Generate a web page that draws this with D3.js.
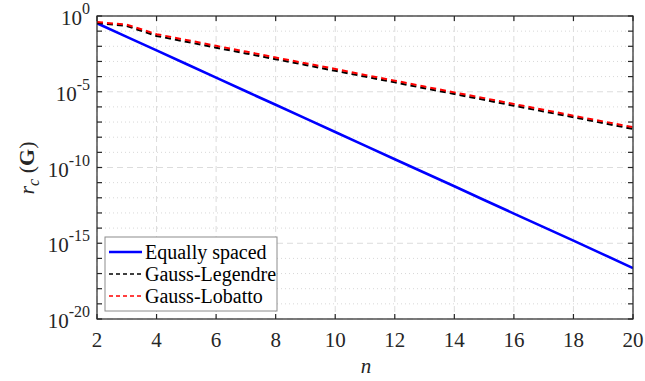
<!DOCTYPE html>
<html>
<head>
<meta charset="utf-8">
<script src="https://cdn.jsdelivr.net/npm/d3@7"></script>
<style>
  html, body { margin: 0; padding: 0; background: #fff; }
  svg { display: block; }
  text { font-family: 'Liberation Serif', 'DejaVu Serif', serif; }
</style>
</head>
<body>
<svg id="chart" width="645" height="381" font-family="Liberation Serif"></svg>
<script>
// Number of points n
const nValues = [2, 3, 4, 5, 6, 7, 8, 9, 10, 11, 12, 13, 14, 15, 16, 17, 18, 19, 20];

// r_c(G) for each node distribution
const equallySpaced = [0.33, 0.042, 5.4e-3, 6.8e-4, 8.5e-5, 1.07e-5, 1.38e-6, 1.74e-7, 2.2e-8,
  2.8e-9, 3.5e-10, 4.5e-11, 5.8e-12, 7.2e-13, 9.1e-14, 1.15e-14, 1.48e-15, 1.86e-16, 2.3e-17];
const gaussLegendre = [0.347, 0.219, 0.0479, 0.0200, 8.1e-3, 3.4e-3, 1.41e-3, 5.9e-4, 2.4e-4,
  1.0e-4, 4.2e-5, 1.7e-5, 7.1e-6, 2.95e-6, 1.2e-6, 5.0e-7, 2.1e-7, 8.5e-8, 3.5e-8];
const gaussLobatto = [0.398, 0.269, 0.0631, 0.0263, 0.0107, 4.5e-3, 1.82e-3, 7.6e-4, 3.2e-4,
  1.29e-4, 5.4e-5, 2.2e-5, 9.1e-6, 3.8e-6, 1.55e-6, 6.5e-7, 2.6e-7, 1.10e-7, 4.6e-8];

const seriesNames = ["Equally spaced", "Gauss-Legendre", "Gauss-Lobatto"];

// Axis ticks
const xTicks = [2, 4, 6, 8, 10, 12, 14, 16, 18, 20];
const yLabelExponents = [0, -5, -10, -15, -20];
const yMinorExponents = d3.range(0, -21, -1);

const FONT = "Liberation Serif";
const svg = d3.select("#chart");
const margin = { left: 97, right: 12, top: 16, bottom: 62 };
const W = 645, H = 381;
const x0 = margin.left, x1 = W - margin.right, y0 = margin.top, y1 = H - margin.bottom;

const x = d3.scaleLinear().domain([2, 20]).range([x0, x1]);
const y = d3.scaleLog().domain([1e-20, 1]).range([y1, y0]);

// Grid: dotted at every decade, dashed at labelled decades and x ticks
const grid = svg.append("g");
yMinorExponents.filter(e => !yLabelExponents.includes(e)).forEach(e => {
  grid.append("line")
    .attr("x1", x0).attr("x2", x1)
    .attr("y1", y(Math.pow(10, e))).attr("y2", y(Math.pow(10, e)))
    .attr("stroke", "#d8d8d8").attr("stroke-width", 1)
    .attr("stroke-dasharray", "1,3");
});
yLabelExponents.forEach(e => {
  grid.append("line")
    .attr("x1", x0).attr("x2", x1)
    .attr("y1", y(Math.pow(10, e))).attr("y2", y(Math.pow(10, e)))
    .attr("stroke", "#dcdcdc").attr("stroke-width", 1)
    .attr("stroke-dasharray", "6,4");
});
xTicks.forEach(t => {
  grid.append("line")
    .attr("x1", x(t)).attr("x2", x(t))
    .attr("y1", y0).attr("y2", y1)
    .attr("stroke", "#dcdcdc").attr("stroke-width", 1)
    .attr("stroke-dasharray", "6,4");
});

// Series lines
const line = d3.line().x((d, i) => x(nValues[i])).y(d => y(d));
svg.append("clipPath").attr("id", "plotclip")
  .append("rect").attr("x", x0).attr("y", y0 - 2).attr("width", x1 - x0).attr("height", y1 - y0 + 2);

const plot = svg.append("g").attr("clip-path", "url(#plotclip)");
plot.append("path").datum(equallySpaced).attr("d", line)
  .attr("fill", "none").attr("stroke", "#0000ff").attr("stroke-width", 2.6);
plot.append("path").datum(gaussLegendre).attr("d", line)
  .attr("fill", "none").attr("stroke", "#000000").attr("stroke-width", 2)
  .attr("stroke-dasharray", "6,4");
plot.append("path").datum(gaussLobatto).attr("d", line)
  .attr("fill", "none").attr("stroke", "#ff0000").attr("stroke-width", 2)
  .attr("stroke-dasharray", "6,4");

// Axes: box with inward ticks on all four sides
const axisColor = "#262626";
const tickLen = 5;
const axes = svg.append("g").attr("stroke", axisColor).attr("stroke-width", 1.2);
axes.append("rect").attr("x", x0).attr("y", y0).attr("width", x1 - x0).attr("height", y1 - y0)
  .attr("fill", "none");
xTicks.forEach(t => {
  axes.append("line").attr("x1", x(t)).attr("x2", x(t)).attr("y1", y1).attr("y2", y1 - tickLen);
  axes.append("line").attr("x1", x(t)).attr("x2", x(t)).attr("y1", y0).attr("y2", y0 + tickLen);
});
yMinorExponents.forEach(e => {
  const yy = y(Math.pow(10, e));
  axes.append("line").attr("x1", x0).attr("x2", x0 + tickLen).attr("y1", yy).attr("y2", yy);
  axes.append("line").attr("x1", x1).attr("x2", x1 - tickLen).attr("y1", yy).attr("y2", yy);
});

// Tick labels
const textColor = "#262626";
xTicks.forEach(t => {
  svg.append("text").attr("x", x(t)).attr("y", y1 + 28)
    .attr("font-family", FONT)
    .attr("text-anchor", "middle").attr("font-size", 21).attr("fill", textColor)
    .text(t);
});
yLabelExponents.forEach(e => {
  const yy = y(Math.pow(10, e));
  const t = svg.append("text").attr("x", x0 - 7).attr("y", yy + 9)
    .attr("font-family", FONT)
    .attr("text-anchor", "end").attr("font-size", 21).attr("fill", textColor);
  t.append("tspan").text("10");
  t.append("tspan").attr("dy", -11).attr("font-size", 16).text(e);
});

// Axis titles
svg.append("text").attr("x", 366).attr("y", 373)
  .attr("font-family", FONT)
  .attr("text-anchor", "middle").attr("font-size", 21).attr("font-style", "italic")
  .attr("fill", textColor).text("n");

const yt = svg.append("text")
  .attr("transform", `translate(34,168) rotate(-90)`)
  .attr("font-family", FONT)
  .attr("text-anchor", "middle").attr("font-size", 22).attr("fill", textColor);
yt.append("tspan").attr("font-style", "italic").text("r");
yt.append("tspan").attr("font-style", "italic").attr("font-size", 16).attr("dy", 5).text("c");
yt.append("tspan").attr("dy", -5).text(" (");
yt.append("tspan").attr("font-weight", "bold").text("G");
yt.append("tspan").text(")");

// Legend
const legend = svg.append("g");
const lx = 105, ly = 237, lw = 172, lh = 74;
legend.append("rect").attr("x", lx).attr("y", ly).attr("width", lw).attr("height", lh)
  .attr("fill", "#fff").attr("stroke", "#8c8c8c").attr("stroke-width", 1);
const legendStyles = [
  { color: "#0000ff", width: 2.6, dash: null },
  { color: "#000000", width: 1.5, dash: "4,3" },
  { color: "#ff0000", width: 1.5, dash: "4,3" }
];
seriesNames.forEach((name, i) => {
  const cy = ly + 15 + i * 22;
  const s = legendStyles[i];
  const ln = legend.append("line").attr("x1", lx + 4).attr("x2", lx + 37)
    .attr("y1", cy).attr("y2", cy)
    .attr("stroke", s.color).attr("stroke-width", s.width);
  if (s.dash) ln.attr("stroke-dasharray", s.dash);
  legend.append("text").attr("x", lx + 40).attr("y", cy + 7)
    .attr("font-family", FONT)
    .attr("font-size", 20).attr("fill", "#000").text(name);
});
</script>
</body>
</html>
